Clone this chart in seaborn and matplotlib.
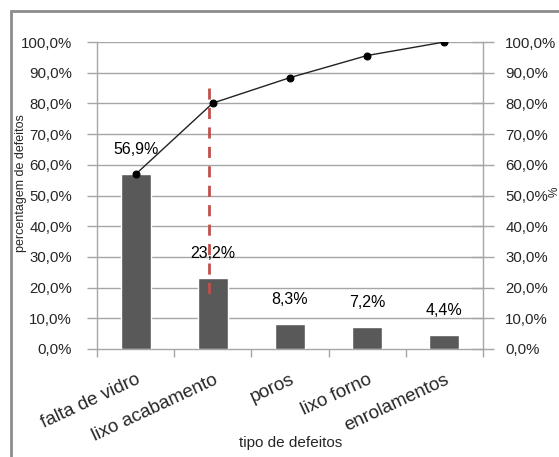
import numpy as np
import pandas as pd
import matplotlib
matplotlib.use("Agg")
import matplotlib.pyplot as plt
from matplotlib import font_manager
from matplotlib.patches import Rectangle
from matplotlib.ticker import FixedLocator, FuncFormatter
import seaborn as sns

# Pareto data: defect types and their share of all defects
categories = ["falta de vidro", "lixo acabamento", "poros", "lixo forno", "enrolamentos"]
percent = [56.9, 23.2, 8.3, 7.2, 4.4]
cumulative = [56.9, 80.1, 88.4, 95.6, 100.0]
y_ticks = [0, 10, 20, 30, 40, 50, 60, 70, 80, 90, 100]

sns.set_theme(style="white")


def pick_font():
    for fam in ["Liberation Sans Narrow", "Liberation Sans", "DejaVu Sans"]:
        try:
            font_manager.findfont(fam, fallback_to_default=False)
            return fam
        except Exception:
            continue
    return "DejaVu Sans"


FONT = pick_font()
plt.rcParams["font.family"] = [FONT, "DejaVu Sans"]

W, H = 559, 457
fig = plt.figure(figsize=(W / 100, H / 100), dpi=100)
fig.patch.set_facecolor("white")

# plot area in pixel coordinates
x0, x1, ytop, ybot = 97, 483, 42, 349
ax = fig.add_axes([x0 / W, 1 - ybot / H, (x1 - x0) / W, (ybot - ytop) / H])

df = pd.DataFrame({"tipo": categories, "pct": percent})
sns.barplot(data=df, x="tipo", y="pct", color="#595959", saturation=1,
            width=0.39, ax=ax, zorder=3)
ax.set_xlim(-0.5, len(categories) - 0.5)
ax.set_ylim(0, 100)

# cumulative line
line_df = pd.DataFrame({"pos": np.arange(len(categories)), "cum": cumulative})
sns.lineplot(data=line_df, x="pos", y="cum", color="#222222", linewidth=1.0,
             marker="o", markersize=5, markerfacecolor="black",
             markeredgecolor="black", ax=ax, zorder=4)

# 80% cut-off marker
ax.plot([0.95, 0.95], [85, 17.6], color="#c0504d", lw=2, ls=(0, (4, 3)), zorder=5)

# value labels above the bars
for i, v in enumerate(percent):
    ax.annotate(f"{v:.1f}%".replace(".", ","), (i, v), xytext=(0, 17),
                textcoords="offset pixels", ha="center", va="bottom",
                fontsize=11.5, color="black", zorder=6)

# gridlines
grid_c = "#a6a6a6"
for t in y_ticks[1:]:
    ax.axhline(t, color=grid_c, lw=1, zorder=1)

fmt = FuncFormatter(lambda v, p: f"{v:.1f}%".replace(".", ","))
ax.yaxis.set_major_locator(FixedLocator(y_ticks))
ax.yaxis.set_major_formatter(fmt)
ax.tick_params(axis="y", direction="out", length=7, width=1, color=grid_c,
               labelsize=10.8, pad=11, left=True)

# category ticks at boundaries, labels at centres
ax.set_xticks(np.arange(len(categories)))
ax.set_xticklabels(categories, rotation=25, ha="right", va="top",
                   rotation_mode="anchor", fontsize=13.5)
ax.xaxis.set_minor_locator(FixedLocator(np.arange(len(categories) + 1) - 0.5))
ax.tick_params(axis="x", which="major", length=0, pad=16)
ax.tick_params(axis="x", which="minor", direction="out", length=6, width=1,
               color=grid_c, bottom=True)

for side in ["top", "right"]:
    ax.spines[side].set_visible(False)
for side in ["left", "bottom"]:
    ax.spines[side].set_color(grid_c)
    ax.spines[side].set_linewidth(1)

ax.set_xlabel("")
ax.set_ylabel("")

# secondary axis with the same percentage scale
ax2 = ax.twinx()
ax2.set_ylim(0, 100)
ax2.yaxis.set_major_locator(FixedLocator(y_ticks))
ax2.yaxis.set_major_formatter(fmt)
ax2.tick_params(axis="y", direction="inout", length=16, width=1, color=grid_c,
                labelsize=10.8, pad=8, right=True)
for side in ["top", "left", "bottom"]:
    ax2.spines[side].set_visible(False)
ax2.spines["right"].set_color(grid_c)
ax2.spines["right"].set_linewidth(1)
ax2.set_ylabel("")

# axis titles
fig.text(21 / W, 1 - 183 / H, "percentagem de defeitos", rotation=90,
         ha="center", va="center", fontsize=9)
fig.text(291 / W, 1 - 443 / H, "tipo de defeitos", ha="center", va="center",
         fontsize=11)
fig.text(554.5 / W, 1 - 192 / H, "%", rotation=90, ha="center", va="center",
         fontsize=8.5)

# chart frame
fig.patches.append(Rectangle((10.5 / W, -0.1), 1.2, 1.1 - 10.5 / H,
                             transform=fig.transFigure, fill=False,
                             edgecolor="#8c8c8c", lw=2, zorder=10))

fig.savefig("out.png", dpi=100, facecolor="white")
